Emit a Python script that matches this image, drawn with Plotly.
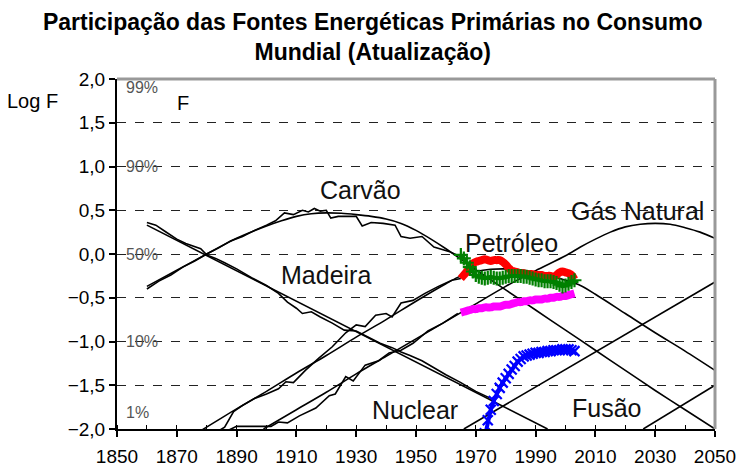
import plotly.graph_objects as go

# ---------------- data ----------------
# model curves (logistic substitution, log F/(1-F))
wood_model_years = [1860, 1994]
wood_model_vals = [0.33, -2.0]

coal_model_years = [1860, 1870, 1880, 1890, 1900, 1905, 1910, 1915, 1920, 1925, 1930, 1935, 1940,
                    1945, 1950, 1955, 1960, 1970, 1980, 1990, 2000, 2010, 2020, 2030, 2040, 2050]
coal_model_vals = [-0.37, -0.185, 0.0, 0.18, 0.32, 0.38, 0.43, 0.46, 0.47, 0.465, 0.45, 0.43, 0.40,
                   0.35, 0.27, 0.17, 0.06, -0.18, -0.41, -0.64, -0.87, -1.10, -1.33, -1.56, -1.78, -2.0]

oil_model_years = [1878, 1890, 1900, 1910, 1920, 1930, 1940, 1950, 1960, 1965, 1970, 1975, 1980,
                   1985, 1990, 1995, 2000, 2005, 2010, 2020, 2030, 2040, 2050]
oil_model_vals = [-2.02, -1.77, -1.57, -1.36, -1.16, -0.95, -0.75, -0.54, -0.34, -0.25, -0.20, -0.175,
                  -0.17, -0.18, -0.21, -0.25, -0.30, -0.36, -0.46, -0.68, -0.90, -1.11, -1.33]

gas_model_years = [1899, 1910, 1920, 1930, 1940, 1950, 1960, 1970, 1980, 1990, 2000, 2005, 2010,
                   2015, 2020, 2025, 2030, 2035, 2040, 2045, 2050]
gas_model_vals = [-2.0, -1.78, -1.58, -1.37, -1.17, -0.97, -0.77, -0.57, -0.37, -0.19, -0.02, 0.08,
                  0.17, 0.25, 0.31, 0.34, 0.35, 0.34, 0.30, 0.25, 0.18]

nuclear_model_years = [1966, 2050]
nuclear_model_vals = [-2.0, -0.32]

fusion_model_years = [2026, 2050]
fusion_model_vals = [-2.0, -1.5]

# historical data (black, wiggly)
wood_hist_years = [1860, 1863, 1866, 1870, 1873, 1876, 1878, 1880, 1883, 1886, 1890, 1895, 1900, 1904,
                   1907, 1910, 1912, 1915, 1918, 1922, 1926, 1930, 1934, 1938, 1942, 1945, 1948, 1952,
                   1956, 1960, 1965, 1970, 1975]
wood_hist_vals = [0.36, 0.33, 0.26, 0.17, 0.12, 0.08, 0.06, -0.01, -0.05, -0.10, -0.17, -0.27, -0.36,
                  -0.45, -0.55, -0.62, -0.68, -0.66, -0.72, -0.79, -0.87, -0.88, -0.95, -1.02, -1.07,
                  -1.12, -1.16, -1.22, -1.30, -1.38, -1.47, -1.57, -1.65]

coal_hist_years = [1860, 1864, 1868, 1872, 1876, 1880, 1884, 1888, 1892, 1896, 1900, 1903, 1906, 1909,
                   1912, 1914, 1916, 1918, 1920, 1921.5, 1924, 1927, 1930, 1932, 1935, 1939, 1943, 1945,
                   1948, 1952, 1956, 1961, 1965]
coal_hist_vals = [-0.40, -0.31, -0.24, -0.15, -0.08, 0.0, 0.07, 0.15, 0.20, 0.27, 0.33, 0.38, 0.47, 0.45,
                  0.50, 0.48, 0.52, 0.49, 0.50, 0.41, 0.43, 0.43, 0.43, 0.32, 0.36, 0.35, 0.33, 0.20,
                  0.18, 0.20, 0.08, 0.03, -0.03]

oil_hist_years = [1880, 1886, 1889, 1892, 1896, 1900, 1904, 1906.5, 1909, 1913, 1917.5, 1922, 1926.5,
                  1930, 1933, 1936.5, 1940, 1942, 1945, 1949, 1953, 1957.5, 1962, 1965]
oil_hist_vals = [-2.10, -1.98, -1.80, -1.73, -1.65, -1.60, -1.54, -1.46, -1.47, -1.33, -1.19, -1.06,
                 -0.90, -0.81, -0.83, -0.70, -0.68, -0.72, -0.56, -0.53, -0.45, -0.37, -0.30, -0.28]

gas_hist_years = [1885, 1890, 1901.5, 1904, 1907, 1911, 1916.5, 1921, 1923, 1926.5, 1929, 1933, 1937.5,
                  1941, 1945, 1949, 1954, 1959, 1964]
gas_hist_vals = [-2.05, -1.97, -1.97, -1.92, -1.93, -1.85, -1.76, -1.62, -1.60, -1.40, -1.45, -1.27,
                 -1.22, -1.13, -1.10, -1.02, -0.88, -0.79, -0.68]

# update (1965-2003)
upd_years = list(range(1965, 2004))
oil_upd_vals = [-0.28, -0.24, -0.20, -0.15, -0.11, -0.09, -0.08, -0.07, -0.06, -0.07, -0.08, -0.07,
                -0.07, -0.07, -0.09, -0.12, -0.16, -0.19, -0.20, -0.21, -0.22, -0.22, -0.23, -0.23,
                -0.23, -0.24, -0.24, -0.24, -0.25, -0.25, -0.25, -0.26, -0.24, -0.21, -0.20, -0.21,
                -0.22, -0.24, -0.29]
coal_upd_vals = [-0.01, -0.05, -0.10, -0.15, -0.20, -0.24, -0.26, -0.27, -0.28, -0.27, -0.26, -0.27,
                 -0.28, -0.28, -0.27, -0.26, -0.25, -0.25, -0.25, -0.25, -0.25, -0.26, -0.26, -0.27,
                 -0.28, -0.29, -0.30, -0.30, -0.31, -0.31, -0.31, -0.32, -0.33, -0.35, -0.37, -0.36,
                 -0.34, -0.32, -0.30]
gas_upd_vals = [-0.67, -0.66, -0.65, -0.64, -0.63, -0.63, -0.62, -0.62, -0.61, -0.61, -0.61, -0.60,
                -0.60, -0.60, -0.59, -0.58, -0.58, -0.57, -0.56, -0.55, -0.55, -0.54, -0.54, -0.53,
                -0.53, -0.52, -0.52, -0.52, -0.51, -0.51, -0.50, -0.50, -0.49, -0.49, -0.48, -0.48,
                -0.47, -0.46, -0.45]
nuc_upd_years = list(range(1971, 2004))
nuc_upd_vals = [-2.40, -2.25, -2.05, -1.90, -1.78, -1.68, -1.60, -1.53, -1.47, -1.42, -1.37, -1.32,
                -1.28, -1.23, -1.20, -1.17, -1.16, -1.15, -1.14, -1.13, -1.13, -1.12, -1.12, -1.11,
                -1.11, -1.10, -1.10, -1.10, -1.09, -1.09, -1.09, -1.10, -1.11]

# labels
source_labels = ["Carvão", "Madeira", "Petróleo", "Gás Natural", "Nuclear", "Fusão"]
source_label_x = [1931.3, 1920, 1982, 2024, 1949.7, 2013.7]
source_label_y = [0.73, -0.24, 0.13, 0.49, -1.78, -1.76]

pct_labels = ["99%", "90%", "50%", "10%", "1%"]
pct_label_y = [1.9, 1.0, 0.0, -1.0, -1.81]

FONT = "Liberation Sans, Arial, sans-serif"

fig = go.Figure()

def black(x, y, shape="spline"):
    fig.add_trace(go.Scatter(x=x, y=y, mode="lines",
                             line=dict(color="black", width=1.6, shape=shape, smoothing=0.8),
                             hoverinfo="skip"))

for xs, ys in [(wood_model_years, wood_model_vals), (coal_model_years, coal_model_vals),
               (oil_model_years, oil_model_vals), (gas_model_years, gas_model_vals),
               (nuclear_model_years, nuclear_model_vals), (fusion_model_years, fusion_model_vals)]:
    black(xs, ys)

for xs, ys in [(wood_hist_years, wood_hist_vals), (coal_hist_years, coal_hist_vals),
               (oil_hist_years, oil_hist_vals), (gas_hist_years, gas_hist_vals)]:
    black(xs, ys, shape="linear")

fig.add_trace(go.Scatter(x=upd_years, y=oil_upd_vals, mode="lines",
                         line=dict(color="#FF0000", width=8, shape="spline")))
fig.add_trace(go.Scatter(x=upd_years, y=gas_upd_vals, mode="lines",
                         line=dict(color="#FF00FF", width=8, shape="spline")))
fig.add_trace(go.Scatter(x=upd_years, y=coal_upd_vals, mode="lines+markers",
                         line=dict(color="#008000", width=4),
                         marker=dict(symbol="cross-thin", size=10, color="#008000",
                                     line=dict(color="#008000", width=2.2))))
fig.add_trace(go.Scatter(x=nuc_upd_years, y=nuc_upd_vals, mode="lines+markers",
                         line=dict(color="#0000FF", width=4),
                         marker=dict(symbol="x-thin", size=10, color="#0000FF",
                                     line=dict(color="#0000FF", width=2.2))))

annotations = []
for t, x, y in zip(source_labels, source_label_x, source_label_y):
    annotations.append(dict(text=t, x=x, y=y, xref="x", yref="y", showarrow=False,
                            font=dict(family=FONT, size=25, color="#111")))
for t, y in zip(pct_labels, pct_label_y):
    annotations.append(dict(text=t, x=1852.2, y=y, xref="x", yref="y", showarrow=False,
                            xanchor="left", font=dict(family=FONT, size=16, color="#555")))
annotations.append(dict(text="Log F", x=-0.187, y=0.937, xref="paper", yref="paper",
                        showarrow=False, xanchor="left", yanchor="middle",
                        font=dict(family=FONT, size=20, color="black")))
annotations.append(dict(text="F", x=1872, y=1.73, xref="x", yref="y", showarrow=False,
                        font=dict(family=FONT, size=20, color="black")))

fig.update_layout(
    width=741, height=469,
    margin=dict(l=117, r=26, t=79, b=40, autoexpand=False),
    paper_bgcolor="white", plot_bgcolor="white",
    showlegend=False,
    separators=",.",
    title=dict(text="<b>Participação das Fontes Energéticas Primárias no Consumo<br>Mundial (Atualização)</b>",
               x=0.503, xref="container", xanchor="center",
               y=0.936, yref="container", yanchor="top",
               font=dict(family=FONT, size=23, color="black")),
    annotations=annotations,
    shapes=[
        dict(type="line", xref="paper", yref="paper", x0=0, x1=1, y0=1, y1=1,
             line=dict(color="#999", width=3)),
        dict(type="line", xref="paper", yref="paper", x0=1, x1=1, y0=0, y1=1,
             line=dict(color="#999", width=3)),
    ],
)

fig.update_xaxes(range=[1850, 2050], tick0=1850, dtick=20, showgrid=False, zeroline=False,
                 automargin=False,
                 showline=True, linecolor="black", linewidth=2,
                 ticks="outside", ticklen=6, tickwidth=1.5, tickcolor="black",
                 ticklabelstandoff=3,
                 minor=dict(ticks="inside", dtick=10, tick0=1850, ticklen=4, tickcolor="black", tickwidth=1.2),
                 tickfont=dict(family=FONT, size=19, color="black"))
fig.update_yaxes(range=[-2, 2], tick0=-2, dtick=0.5, tickformat=".1f", zeroline=False,
                 automargin=False,
                 showgrid=True, gridcolor="#222", gridwidth=1, griddash="dash",
                 showline=True, linecolor="black", linewidth=2,
                 ticks="outside", ticklen=6, tickwidth=1.5, tickcolor="black",
                 tickfont=dict(family=FONT, size=19, color="black"))

fig.write_html("out.html", config={"displayModeBar": False},
               post_script="document.body.style.margin='0';document.body.style.padding='0';"
                           "document.documentElement.style.overflow='hidden';")
